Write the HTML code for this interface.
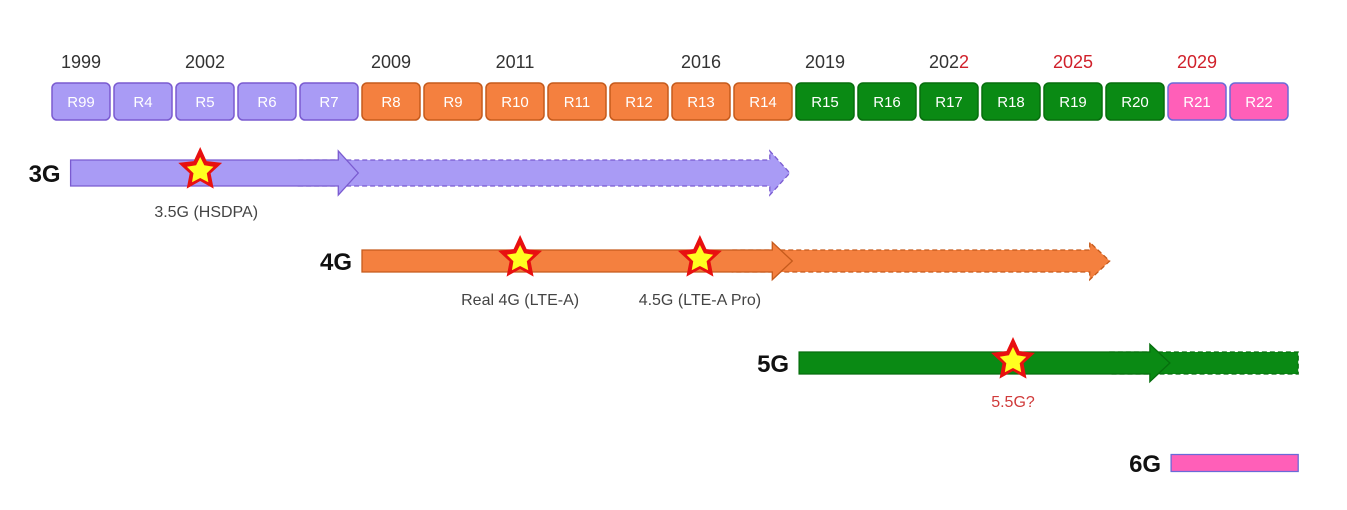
<!DOCTYPE html>
<html><head><meta charset="utf-8"><style>
body{margin:0;background:#fff;width:1347px;height:510px;overflow:hidden}
svg{display:block;font-family:"Liberation Sans","DejaVu Sans",sans-serif}
</style></head><body>
<svg id="c" width="1347" height="510"></svg>
<script>
const releases=["R99","R4","R5","R6","R7","R8","R9","R10","R11","R12","R13","R14","R15","R16","R17","R18","R19","R20","R21","R22"];
const releaseGen=[3,3,3,3,3,4,4,4,4,4,4,4,5,5,5,5,5,5,6,6];
const yearLabels=["1999","2002","2009","2011","2016","2019","2022","2025","2029"];
const yearRelIdx=[0,2,5,7,10,12,14,16,18];
const yearFuture=[0,0,0,0,0,0,1,1,1];
const gens=["3G","4G","5G","6G"];
const genStart=[0.3,5.0,12.05,18.05];
const genSolidEnd=[4.94,11.94,18.03,20.1];
const genDashEnd=[11.9,17.06,20.1,20.1];
const genY=[173,261,363,463];
const milestones=["3.5G (HSDPA)","Real 4G (LTE-A)","4.5G (LTE-A Pro)","5.5G?"];
const milestoneGen=[0,1,1,2];
const milestonePos=[2.39,7.55,10.45,15.5];
const fill={3:"#a99bf5",4:"#f4803f",5:"#0a8a14",6:"#ff5fb8"};
const stroke={3:"#7a5bd0",4:"#c55a1c",5:"#066e0d",6:"#6a6ad8"};
const svg=document.getElementById('c');const NS="http://www.w3.org/2000/svg";
const x0=52,pitch=62,bw=58;
const X=i=>x0+i*pitch;
function el(t,a,p){const e=document.createElementNS(NS,t);for(const k in a)e.setAttribute(k,a[k]);(p||svg).appendChild(e);return e;}
releases.forEach((r,i)=>{const g=releaseGen[i];
 const b=el('rect',{x:X(i),y:83,width:bw,height:37,rx:5,fill:fill[g],stroke:stroke[g],'stroke-width':1.5});
 
 
 const t=el('text',{x:X(i)+bw/2,y:107,'text-anchor':'middle','font-size':15,fill:'#fff'});t.textContent=r;
 
 
});
yearLabels.forEach((y,i)=>{const t=el('text',{x:X(yearRelIdx[i])+bw/2,y:68,'text-anchor':'middle','font-size':18,fill:yearFuture[i]?'#d0202a':'#333'});
 if(y==="2022"){t.textContent="202";const s=el('tspan',{fill:'#d0202a'},t);s.textContent="2";t.setAttribute('fill','#333');}else t.textContent=y;
 
 
});
function arrow(xs,xe,y,h,g,dashed,head){
 const hh=h/2,ah=head?h*0.85:0,al=head?20:0;
 const d=head?`M${xs},${y-hh}L${xe-al},${y-hh}L${xe-al},${y-ah}L${xe},${y}L${xe-al},${y+ah}L${xe-al},${y+hh}L${xs},${y+hh}Z`
  :`M${xs},${y-hh}L${xe},${y-hh}L${xe},${y+hh}L${xs},${y+hh}Z`;
 return el('path',{d,fill:fill[g],stroke:stroke[g],'stroke-width':1.3,'stroke-dasharray':dashed?'5,3':'none'});
}
gens.forEach((n,i)=>{const g=i+3,y=genY[i],h=i==3?17:(i==0?26:22);
 const xs=X(genStart[i]),xsEnd=X(genSolidEnd[i]),xd=X(genDashEnd[i]);
 if(genDashEnd[i]>genSolidEnd[i]){const a=arrow(xsEnd-60,xd,y,h,g,true,i<2);
  
  }
 const a=arrow(xs,xsEnd,y,h,g,false,i<3);
 
 
 const t=el('text',{x:xs-10,y:y+9,'text-anchor':'end','font-size':24,'font-weight':'bold',fill:'#111'});t.textContent=n;
 
 
});
function star(cx,cy,R,r){let p=[];for(let k=0;k<10;k++){const a=-Math.PI/2+k*Math.PI/5,rr=k%2?r:R;p.push((cx+rr*Math.cos(a)).toFixed(1)+','+(cy+rr*Math.sin(a)).toFixed(1));}return p.join(' ');}
milestones.forEach((m,i)=>{const y=genY[milestoneGen[i]],cx=X(milestonePos[i]);
 const s=el('polygon',{points:star(cx,y-3,23,11),fill:'#e81010'});
 
 
 el('polygon',{points:star(cx,y-2,14,7),fill:'#ffff20'});
 const t=el('text',{x:cx+(i==0?6:0),y:y+44,'text-anchor':'middle','font-size':16,fill:i==3?'#d03a3a':'#444'});t.textContent=m;
 
 
});
</script>
</body></html>
